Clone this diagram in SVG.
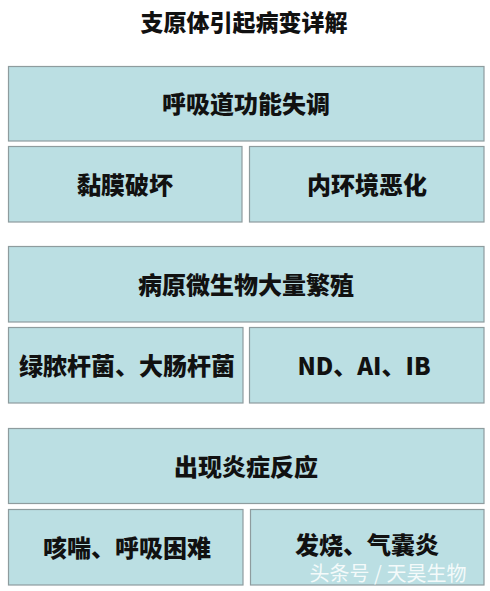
<svg xmlns="http://www.w3.org/2000/svg" width="490" height="591" viewBox="0 0 490 591">
<style>
.box{fill:#bbdfe3;stroke:#8e9c9e;stroke-width:1.2}
.t{font-family:"Noto Sans CJK SC","Liberation Sans",sans-serif;font-weight:900;font-size:24px;fill:#111;text-anchor:middle;dominant-baseline:central}
.title{font-size:23px}
.wm{font-family:"Noto Sans CJK SC",sans-serif;font-size:20px;fill:#ffffff;fill-opacity:0.85;text-anchor:middle;dominant-baseline:central}
</style>
<rect width="490" height="591" fill="#ffffff"/>
<text class="t title" x="244" y="21">支原体引起病变详解</text>
<g id="n1"><rect class="box" x="8.5" y="66.5" width="475.5" height="74.5"/><text class="t" x="246" y="102">呼吸道功能失调</text></g>
<g id="n2"><rect class="box" x="8.5" y="146.5" width="233.5" height="75.5"/><text class="t" x="125" y="183">黏膜破坏</text></g>
<g id="n3"><rect class="box" x="249.5" y="146.5" width="234.5" height="75.5"/><text class="t" x="367" y="183">内环境恶化</text></g>
<g id="n4"><rect class="box" x="8.5" y="246.5" width="475.5" height="75.5"/><text class="t" x="246" y="283">病原微生物大量繁殖</text></g>
<g id="n5"><rect class="box" x="8.5" y="327.5" width="234.5" height="75.5"/><text class="t" x="127" y="364">绿脓杆菌、大肠杆菌</text></g>
<g id="n6"><rect class="box" x="249.5" y="327.5" width="234.5" height="75.5"/><text class="t" x="364" y="364">ND、AI、IB</text></g>
<g id="n7"><rect class="box" x="8.5" y="428.5" width="475.5" height="75"/><text class="t" x="246" y="465">出现炎症反应</text></g>
<g id="n8"><rect class="box" x="8.5" y="509.5" width="234.5" height="75.5"/><text class="t" x="127" y="546">咳喘、呼吸困难</text></g>
<g id="n9"><rect class="box" x="250.5" y="509.5" width="233.5" height="75.5"/><text class="t" x="367" y="543">发烧、气囊炎</text></g>
<g id="connectors"></g>
<text class="wm" x="388" y="572">头条号 / 天昊生物</text>
</svg>
